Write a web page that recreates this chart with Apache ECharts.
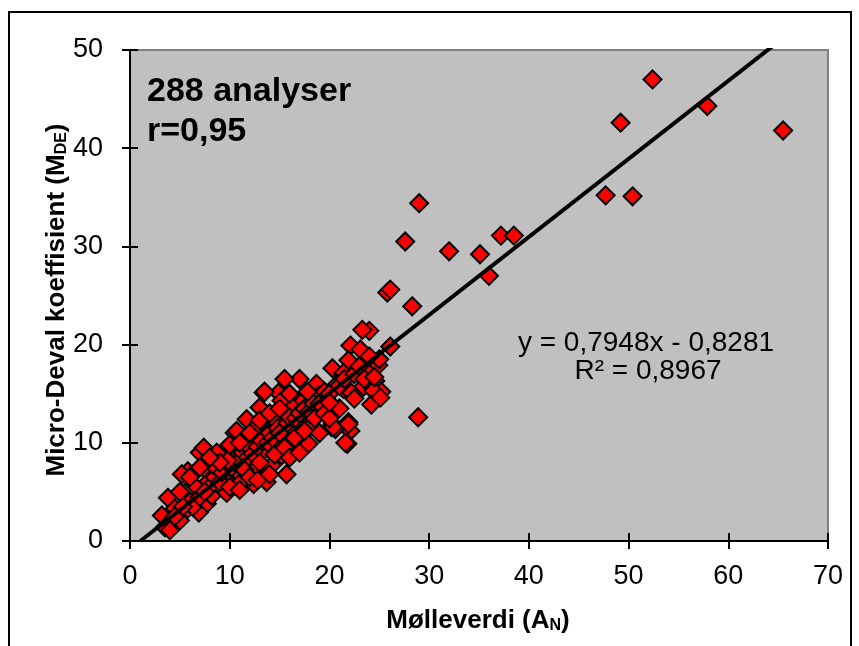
<!DOCTYPE html>
<html>
<head>
<meta charset="utf-8">
<script src="https://cdn.jsdelivr.net/npm/echarts@6/dist/echarts.min.js"></script>
<style>html,body{margin:0;padding:0;background:#fff;}#c{width:859px;height:646px;}</style>
</head>
<body>
<div id="c"></div>
<script>
// Data: Mølleverdi (A_N) vs Micro-Deval (M_DE)
const xValues = [
52.4,49.2,57.9,65.5,47.7,50.4,
29.0,27.6,32.0,35.1,37.2,38.5,36.0,28.3,28.9,
25.8,26.1,24.0,23.3,26.1,22.1,23.1,21.9,24.9,20.3,23.7,21.4,24.6,17.0,18.7,21.4,23.4,25.2,24.4,24.2,22.2,21.9,20.3,18.1,16.4,17.4,19.1,19.7,22.1,21.8,20.6,
15.5,18.7,13.4,14.9,16.2,17.4,15.2,13.0,18.9,11.7,14.5,18.1,13.0,16.2,20.2,11.7,15.5,17.9,17.1,13.4,14.7,15.2,9.7,10.7,12.5,14.2,15.7,11.0,12.4,13.7,9.5,10.0,
12.7,10.5,7.4,7.0,9.5,8.7,5.8,5.2,7.7,9.4,10.9,12.5,3.8,3.2,4.8,5.8,7.7,6.9,8.2,6.9,3.5,9.7,8.9,7.9,6.5,5.5,4.5,4.0,5.0,4.0,
13.5,10.7,7.4,20.4,21.9,21.6,
8.0,8.5,9.0,9.2,10.2,10.5,11.0,11.3,11.8,12.0,12.3,12.8,13.2,13.8,14.0,14.3,14.8,15.0,15.8,16.0,16.6,17.0,17.5,18.0,18.4,19.0,19.5,20.0,20.8,21.0,21.5,22.5,23.0,
6.0,6.3,7.0,7.5,5.3,4.5,8.3,9.8,11.5,12.0,13.0,14.5,15.5,16.5,17.5,18.5,19.5,10.0,11.0,12.8,14.0,16.0,17.0,19.0,20.0,21.0,22.5,23.5,25.0,24.0,
9.0,10.0,11.0,12.0,13.0,14.0,15.0,16.0,17.8,8.0,6.0,7.0,5.0,
24.5,25.1,20.0
];
const yValues = [
47.0,42.6,44.3,41.8,35.2,35.1,
34.4,30.5,29.5,29.2,31.1,31.1,27.0,23.9,12.6,
25.3,25.6,21.4,21.5,19.8,19.9,19.5,18.4,17.9,17.6,17.3,17.1,16.3,16.5,15.8,15.5,15.7,15.2,15.3,13.9,15.1,12.1,11.9,12.1,14.1,14.6,14.9,14.4,11.2,9.9,11.4,
16.5,16.0,15.1,15.1,14.1,14.3,14.3,13.6,14.8,12.4,12.2,11.7,11.6,11.2,11.6,10.4,10.4,9.9,10.9,9.2,9.7,8.7,9.3,8.7,7.7,7.7,6.8,6.8,5.8,6.0,6.3,7.7,
11.7,11.0,9.3,9.0,9.3,9.0,7.1,6.8,7.1,7.3,5.8,7.3,4.4,2.6,2.2,3.3,3.8,4.9,4.6,2.9,1.4,4.9,6.1,6.1,5.6,4.9,3.3,1.9,2.1,1.1,
15.2,11.2,9.5,11.6,11.9,10.0,
5.5,6.5,6.0,7.0,7.5,8.0,8.2,9.0,8.5,9.5,8.9,9.6,10.2,10.0,11.0,10.5,11.5,11.0,12.0,12.6,12.5,13.0,13.5,13.2,14.0,14.0,15.2,15.0,16.0,15.8,16.5,17.0,17.8,
4.0,3.5,4.5,5.0,3.5,2.5,7.8,8.2,7.2,6.5,8.0,8.8,9.5,10.5,11.2,12.5,13.0,5.5,5.2,6.2,6.8,8.5,9.0,11.0,12.5,13.5,14.5,16.5,18.5,18.8,
8.0,9.8,10.0,11.0,12.3,13.0,13.5,15.0,15.2,8.5,6.5,7.5,5.0,
16.7,14.6,14.1
];
const xTicks = [0, 10, 20, 30, 40, 50, 60, 70];
const yTicks = [0, 10, 20, 30, 40, 50];
const trendSlope = 0.7948;
const trendIntercept = -0.8281;
const trendXRange = [-trendIntercept / trendSlope, 65.5];
const annotationLines = ['288 analyser', 'r=0,95'];
const equationLines = ['y = 0,7948x - 0,8281', 'R\u00B2 = 0,8967'];

const FONT = "'Liberation Sans', Arial, sans-serif";
const points = xValues.map((x, i) => [x, yValues[i]]);
const trend = trendXRange.map(x => [x, trendSlope * x + trendIntercept]);

const chart = echarts.init(document.getElementById('c'), null, {renderer: 'canvas'});
const baseX = {
  type: 'value', min: xTicks[0], max: xTicks[xTicks.length - 1], interval: 10,
  splitLine: {show: false}
};
const baseY = {
  type: 'value', min: yTicks[0], max: yTicks[yTicks.length - 1], interval: 10,
  splitLine: {show: false}
};
const titleRich = {
  a: {font: "bold 26px " + FONT, fill: '#000', color: '#000', lineHeight: 32, verticalAlign: 'bottom'},
  s: {font: "bold 16px " + FONT, fill: '#000', color: '#000', lineHeight: 16, verticalAlign: 'bottom'}
};
chart.setOption({
  backgroundColor: '#ffffff',
  animation: false,
  grid: {
    left: 130, top: 50, right: 31, bottom: 105,
    show: true, backgroundColor: '#C0C0C0', borderColor: '#808080', borderWidth: 2
  },
  xAxis: [
    Object.assign({}, baseX, {
      position: 'bottom',
      axisLine: {show: true, lineStyle: {color: '#000', width: 2}},
      axisTick: {show: true, length: 8, lineStyle: {color: '#000', width: 2}},
      axisLabel: {fontSize: 27, fontFamily: FONT, color: '#000', margin: 22}
    }),
    Object.assign({}, baseX, {
      position: 'bottom',
      axisLine: {show: false},
      axisTick: {show: true, inside: true, length: 8, lineStyle: {color: '#000', width: 2}},
      axisLabel: {show: false}
    })
  ],
  yAxis: [
    Object.assign({}, baseY, {
      position: 'left',
      axisLine: {show: true, lineStyle: {color: '#000', width: 2}},
      axisTick: {show: true, length: 8, lineStyle: {color: '#000', width: 2}},
      axisLabel: {fontSize: 27, fontFamily: FONT, color: '#000', margin: 27}
    }),
    Object.assign({}, baseY, {
      position: 'left',
      axisLine: {show: false},
      axisTick: {show: true, inside: true, length: 8, lineStyle: {color: '#000', width: 2}},
      axisLabel: {show: false}
    })
  ],
  series: [
    {
      type: 'scatter', xAxisIndex: 0, yAxisIndex: 0,
      data: points, symbol: 'diamond', symbolSize: 18,
      itemStyle: {color: '#FF0000', borderColor: '#000', borderWidth: 2, opacity: 1},
      z: 3
    },
    {
      type: 'line', xAxisIndex: 0, yAxisIndex: 0,
      data: trend, showSymbol: false, symbol: 'none', clip: true,
      lineStyle: {color: '#000', width: 4},
      z: 4
    }
  ],
  graphic: [
    {
      type: 'rect', silent: true, z: 100,
      shape: {x: 9, y: 12, width: 842, height: 640},
      style: {fill: 'none', stroke: '#000', lineWidth: 2}
    },
    {
      type: 'text', z: 100, x: 147, y: 92,
      style: {text: annotationLines[0], font: "bold 34px " + FONT, fill: '#000', align: 'left', verticalAlign: 'middle'}
    },
    {
      type: 'text', z: 100, x: 147, y: 132,
      style: {text: annotationLines[1], font: "bold 34px " + FONT, fill: '#000', align: 'left', verticalAlign: 'middle'}
    },
    {
      type: 'text', z: 100, x: 646, y: 343,
      style: {text: equationLines[0], font: "28px " + FONT, fill: '#000', align: 'center', verticalAlign: 'middle'}
    },
    {
      type: 'text', z: 100, x: 648, y: 371,
      style: {text: equationLines[1], font: "28px " + FONT, fill: '#000', align: 'center', verticalAlign: 'middle'}
    },
    {
      type: 'text', z: 100, x: 478, y: 618,
      style: {text: '{a|Mølleverdi (A}{s|N}{a|)}', align: 'center', verticalAlign: 'middle', rich: titleRich}
    },
    {
      type: 'text', z: 100, x: 54, y: 300, rotation: Math.PI / 2,
      style: {text: '{a|Micro-Deval koeffisient (M}{s|DE}{a|)}', align: 'center', verticalAlign: 'middle', rich: titleRich}
    }
  ]
});
</script>
</body>
</html>
